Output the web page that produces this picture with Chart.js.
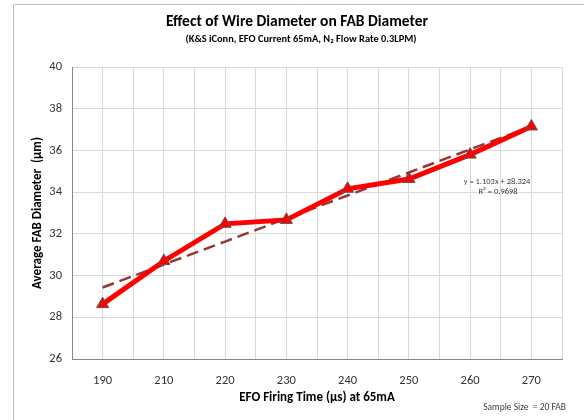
<!DOCTYPE html>
<html>
<head>
<meta charset="utf-8">
<script src="https://cdn.jsdelivr.net/npm/chart.js@4.4.0/dist/chart.umd.min.js"></script>
<style>
body{margin:0;background:#fff;}
canvas{display:block;}
</style>
</head>
<body>
<canvas id="fab-chart" width="584" height="420"></canvas>
<script>
var firingTime = ['190', '210', '220', '230', '240', '250', '260', '270'];
var fabDiameter = [28.63, 30.7, 32.48, 32.67, 34.16, 34.63, 35.8, 37.15];
var trendLine = [29.43, 30.53, 31.63, 32.74, 33.84, 34.94, 36.05, 37.15];
var yTicks = [26, 28, 30, 32, 34, 36, 38, 40];
var titleText = 'Effect of Wire Diameter on FAB Diameter';
var subtitleText = '(K&S iConn, EFO Current 65mA, N\u2082 Flow Rate 0.3LPM)';
var trendText = ['y = 1.103x + 28.324', 'R\u00b2 = 0.9698'];
var sampleText = 'Sample Size  = 20 FAB';

var fontFamily = 'Carlito, Lato, "Open Sans", sans-serif';
Chart.defaults.font.family = fontFamily;

// frame, titles and the little notes
var extras = {
  id: 'extras',
  beforeDraw: function(chart){
    var ctx = chart.ctx;
    ctx.save();
    ctx.fillStyle = '#fff';
    ctx.fillRect(0, 0, chart.width, chart.height);
    ctx.strokeStyle = '#bfbfbf';
    ctx.lineWidth = 1;
    ctx.beginPath();
    ctx.moveTo(13.5, 420);
    ctx.lineTo(13.5, 4.5);
    ctx.lineTo(584, 4.5);
    ctx.stroke();
    ctx.restore();
  },
  afterDraw: function(chart){
    var ctx = chart.ctx;
    ctx.save();
    ctx.textAlign = 'center';
    ctx.textBaseline = 'middle';
    ctx.fillStyle = '#000';
    ctx.font = 'bold 15.5px ' + fontFamily;
    ctx.fillText(titleText, 297, 22);
    ctx.font = 'bold 10.4px ' + fontFamily;
    ctx.fillText(subtitleText, 301, 39);
    ctx.fillStyle = '#404040';
    ctx.font = '8.5px ' + fontFamily;
    ctx.fillText(trendText[0], 497, 182);
    ctx.fillText(trendText[1], 498, 192);
    ctx.font = '9.5px ' + fontFamily;
    ctx.textAlign = 'right';
    ctx.fillText(sampleText, 566, 408);
    ctx.restore();
  }
};

new Chart(document.getElementById('fab-chart'), {
  type: 'line',
  data: {
    labels: firingTime,
    datasets: [{
      data: fabDiameter,
      borderColor: '#ff0000',
      borderWidth: 5,
      pointStyle: 'triangle',
      pointRadius: 7,
      pointBackgroundColor: '#ff0000',
      pointBorderColor: '#595959',
      pointBorderWidth: 1,
      tension: 0
    }, {
      data: trendLine,
      borderColor: '#953735',
      borderWidth: 2.5,
      borderDash: [12, 6],
      pointRadius: 0,
      tension: 0
    }]
  },
  options: {
    responsive: false,
    animation: false,
    layout: {padding: {left: 14, right: 22, top: 67, bottom: 0}},
    plugins: {legend: {display: false}, tooltip: {enabled: false}},
    scales: {
      x: {
        offset: true,
        grid: {offset: true, color: '#d9d9d9', drawTicks: false},
        border: {color: '#868686'},
        ticks: {padding: 14, color: '#333', font: {size: 12.5}},
        title: {display: true, text: 'EFO Firing Time (\u00b5s) at 65mA', color: '#000',
          font: {size: 13, weight: 'bold'}, padding: {top: 0, bottom: 14}},
        afterFit: function(s){ s.height = 61; }
      },
      x2: {
        type: 'category',
        labels: firingTime,
        position: 'bottom',
        offset: true,
        grid: {offset: false, color: '#d9d9d9', drawTicks: false},
        border: {display: false},
        ticks: {display: false},
        afterFit: function(s){ s.height = 0; }
      },
      y: {
        min: 26,
        max: 40,
        afterBuildTicks: function(s){ s.ticks = yTicks.map(function(v){ return {value: v}; }); },
        grid: {color: '#d9d9d9', drawTicks: false},
        border: {color: '#868686'},
        ticks: {padding: 10, color: '#333', font: {size: 12.5}},
        title: {display: true, text: 'Average FAB Diameter  (\u00b5m)', color: '#000',
          font: {size: 13, weight: 'bold'}, padding: {top: 16, bottom: 0}},
        afterFit: function(s){ s.width = 58; }
      }
    }
  },
  plugins: [extras]
});
</script>
</body>
</html>
